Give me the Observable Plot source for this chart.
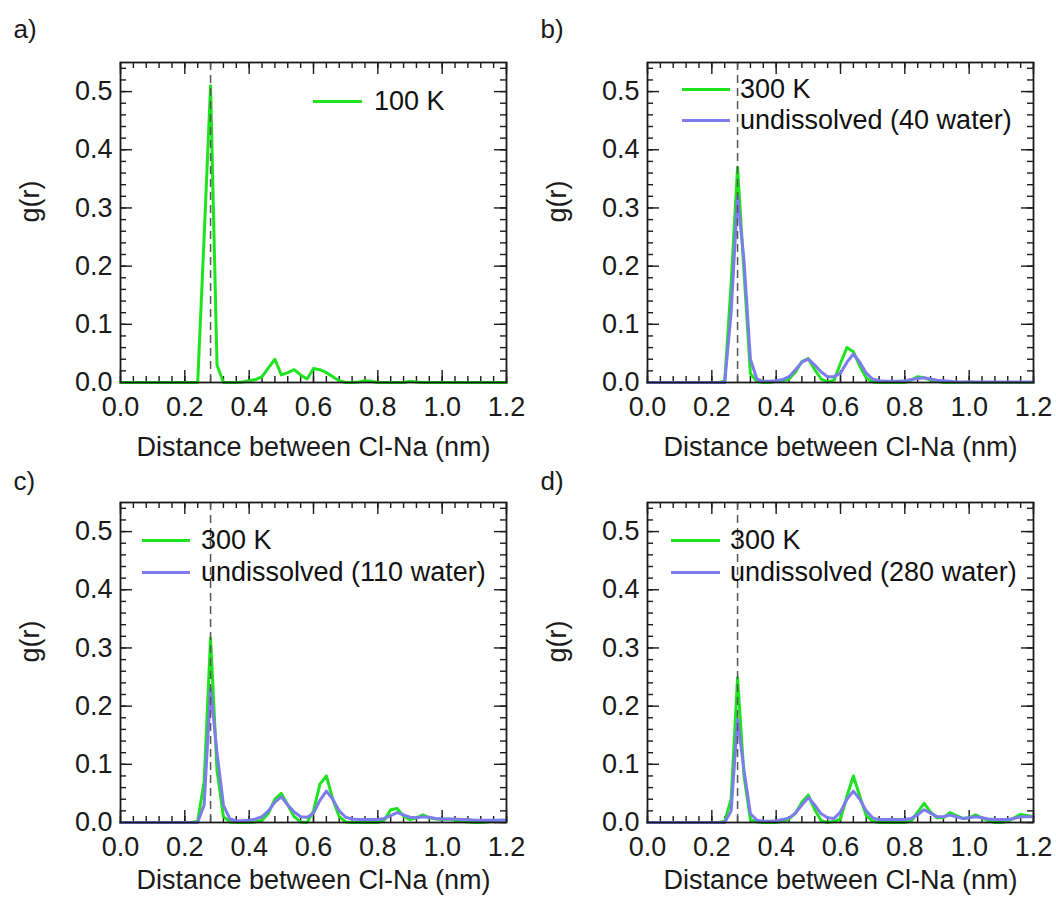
<!DOCTYPE html>
<html>
<head>
<meta charset="utf-8">
<script src="https://cdn.jsdelivr.net/npm/d3@7"></script>
<script src="https://cdn.jsdelivr.net/npm/@observablehq/plot@0.6"></script>
<style>
  body { margin: 0; background: #fff; }
  #page { position: relative; width: 1056px; height: 920px; background: #fff;
          font-family: 'Liberation Sans', Arial, sans-serif; color: #111; overflow: hidden; }
  .panel { position: absolute; }
  .lg-line { position: absolute; height: 3px; }
  .lg-text { position: absolute; font-size: 27px; line-height: 30px; height: 30px; white-space: nowrap; }
</style>
</head>
<body>
<div id="page"></div>
<script>
// ---- data (distance r in nm, g(r) values) ----
const r = [0.00,0.02,0.04,0.06,0.08,0.10,0.12,0.14,0.16,0.18,
           0.20,0.22,0.24,0.26,0.28,0.30,0.32,0.34,0.36,0.38,
           0.40,0.42,0.44,0.46,0.48,0.50,0.52,0.54,0.56,0.58,
           0.60,0.62,0.64,0.66,0.68,0.70,0.72,0.74,0.76,0.78,
           0.80,0.82,0.84,0.86,0.88,0.90,0.92,0.94,0.96,0.98,
           1.00,1.02,1.04,1.06,1.08,1.10,1.12,1.14,1.16,1.18,1.20];

const gA100K = [0,0,0,0,0,0,0,0,0,0,
                0,0,0,0.25,0.51,0.03,0,0,0,0.001,
                0.003,0.005,0.01,0.025,0.04,0.013,0.017,0.022,0.013,0.006,
                0.024,0.022,0.017,0.01,0.003,0,0,0.001,0.003,0.002,
                0,0,0,0,0,0.002,0.001,0,0,0,
                0,0,0,0,0,0,0,0,0,0,0];

const gB300K = [0,0,0,0,0,0,0,0,0,0,
                0,0,0.002,0.17,0.37,0.19,0.015,0.002,0,0,
                0.002,0.003,0.006,0.018,0.036,0.041,0.022,0.006,0.001,0.004,
                0.033,0.06,0.053,0.028,0.008,0.001,0,0,0,0,
                0,0.004,0.01,0.008,0.004,0.002,0,0,0,0,
                0.001,0,0,0,0,0,0,0,0,0,0];
const gB40w  = [0,0,0,0,0,0,0,0,0,0,
                0,0,0,0.12,0.32,0.21,0.04,0.006,0.002,0.002,
                0.003,0.005,0.01,0.022,0.035,0.04,0.03,0.018,0.01,0.01,
                0.016,0.035,0.049,0.035,0.016,0.006,0.003,0.002,0.002,0.002,
                0.003,0.005,0.007,0.008,0.006,0.004,0.003,0.002,0.001,0.001,
                0.001,0.001,0.001,0.001,0.001,0.001,0.001,0.001,0.001,0.001,0.001];

const gC300K = [0,0,0,0,0,0,0,0,0,0,
                0,0,0.002,0.07,0.317,0.09,0.01,0.001,0,0,
                0,0.001,0.004,0.016,0.04,0.05,0.03,0.01,0.001,0,
                0.02,0.066,0.08,0.04,0.01,0.001,0,0,0,0,
                0,0.004,0.022,0.024,0.011,0.005,0.008,0.013,0.008,0.006,
                0.005,0.006,0.004,0.002,0.001,0,0,0.001,0.003,0.004,0.004];
const gC110w = [0,0,0,0,0,0,0,0,0,0,
                0,0,0,0.03,0.23,0.12,0.03,0.006,0.003,0.003,
                0.004,0.006,0.01,0.02,0.035,0.044,0.03,0.018,0.01,0.009,
                0.016,0.038,0.054,0.04,0.02,0.009,0.006,0.005,0.005,0.005,
                0.005,0.007,0.012,0.017,0.013,0.009,0.008,0.01,0.009,0.007,
                0.006,0.006,0.006,0.005,0.005,0.004,0.004,0.004,0.004,0.004,0.004];

const gD300K = [0,0,0,0,0,0,0,0,0,0,
                0,0,0.002,0.04,0.249,0.08,0.005,0.001,0,0,
                0,0.002,0.006,0.016,0.035,0.047,0.022,0.003,0,0.002,
                0.006,0.045,0.08,0.045,0.012,0.002,0,0,0,0,
                0,0.003,0.018,0.033,0.018,0.008,0.008,0.017,0.012,0.007,
                0.008,0.013,0.008,0.003,0,0,0.002,0.008,0.014,0.012,0.01];
const gD280w = [0,0,0,0,0,0,0,0,0,0,
                0,0,0,0.02,0.177,0.09,0.015,0.004,0.002,0.002,
                0.003,0.005,0.008,0.016,0.03,0.043,0.03,0.015,0.008,0.007,
                0.018,0.04,0.054,0.04,0.02,0.008,0.005,0.005,0.005,0.005,
                0.005,0.007,0.013,0.022,0.016,0.01,0.01,0.013,0.01,0.007,
                0.008,0.01,0.008,0.006,0.005,0.005,0.005,0.007,0.01,0.01,0.01];

const peakR = 0.28;                       // dashed reference line
const xTicks = [0, 0.2, 0.4, 0.6, 0.8, 1.0, 1.2];
const yTicks = [0, 0.1, 0.2, 0.3, 0.4, 0.5];
const xTitle = "Distance between Cl-Na (nm)";
const yTitle = "g(r)";
const panelLabels = ["a)", "b)", "c)", "d)"];
const seriesNames = {
  a: ["100 K"],
  b: ["300 K", "undissolved (40 water)"],
  c: ["300 K", "undissolved (110 water)"],
  d: ["300 K", "undissolved (280 water)"]
};

// ---- styling / layout ----
const GREEN = "#1fe31f", BLUE = "#7c7cee";
const W = 528, H = 470, ML = 120, MR = 22, MT = 62, MB = 88;
const FW = W - ML - MR, FH = H - MT - MB;
const xMinor = d3.range(0, 1.2001, 0.04);
const yMinor = d3.range(0, 0.5401, 0.02);
const INK = "#1a1a1a";

const panels = [
  {key: "a", left: 0,   top: 0,   label: panelLabels[0], labelDy: -33, titleDy: 65,
   series: [gA100K], colors: [GREEN],
   legend: {x1: 313, x2: 362, text: 374, ys: [101]}},
  {key: "b", left: 527, top: 0,   label: panelLabels[1], labelDy: -33, titleDy: 65,
   series: [gB300K, gB40w], colors: [GREEN, BLUE],
   legend: {x1: 682, x2: 730, text: 740, ys: [89, 120]}},
  {key: "c", left: 0,   top: 440, label: panelLabels[2], labelDy: -21, titleDy: 58,
   series: [gC300K, gC110w], colors: [GREEN, BLUE],
   legend: {x1: 142, x2: 190, text: 201, ys: [540, 572]}},
  {key: "d", left: 527, top: 440, label: panelLabels[3], labelDy: -21, titleDy: 58,
   series: [gD300K, gD280w], colors: [GREEN, BLUE],
   legend: {x1: 671, x2: 720, text: 730, ys: [540, 572]}}
];

const page = document.getElementById("page");
const fmt = d3.format(".1f");

for (const p of panels) {
  const fig = Plot.plot({
    width: W, height: H,
    marginLeft: ML, marginRight: MR, marginTop: MT, marginBottom: MB,
    x: {domain: [0, 1.2], axis: null},
    y: {domain: [0, 0.55], axis: null},
    style: {fontFamily: "'Liberation Sans', Arial, sans-serif", fontSize: "27px",
            color: INK, background: "transparent", overflow: "visible"},
    marks: [
      // inward ticks on all four sides
      Plot.ruleX(xMinor, {x: d => d, insetTop: FH - 6, stroke: INK, strokeWidth: 1.4}),
      Plot.ruleX(xTicks, {x: d => d, insetTop: FH - 12, stroke: INK, strokeWidth: 1.4}),
      Plot.ruleX(xMinor, {x: d => d, insetBottom: FH - 6, stroke: INK, strokeWidth: 1.4}),
      Plot.ruleX(xTicks, {x: d => d, insetBottom: FH - 12, stroke: INK, strokeWidth: 1.4}),
      Plot.ruleY(yMinor, {y: d => d, insetRight: FW - 6, stroke: INK, strokeWidth: 1.4}),
      Plot.ruleY(yTicks, {y: d => d, insetRight: FW - 12, stroke: INK, strokeWidth: 1.4}),
      Plot.ruleY(yMinor, {y: d => d, insetLeft: FW - 6, stroke: INK, strokeWidth: 1.4}),
      Plot.ruleY(yTicks, {y: d => d, insetLeft: FW - 12, stroke: INK, strokeWidth: 1.4}),
      Plot.axisX({ticks: xTicks, tickSize: 0, tickPadding: 14, tickFormat: fmt, label: null}),
      Plot.axisY({ticks: yTicks, tickSize: 0, tickPadding: 8, tickFormat: fmt, label: null}),
      Plot.text([yTitle], {frameAnchor: "left", dx: -90, rotate: -90, fill: INK}),
      Plot.text([xTitle], {frameAnchor: "bottom", lineAnchor: "middle", dy: p.titleDy, fill: INK}),
      Plot.text([p.label], {frameAnchor: "top-left", lineAnchor: "middle", dx: -107, dy: p.labelDy,
                            textAnchor: "start", fontSize: 26, fill: INK}),
      ...p.series.map((vals, k) =>
        Plot.line(vals, {x: r, y: d => d, stroke: p.colors[k], strokeWidth: 3,
                         strokeLinejoin: "round"})),
      Plot.ruleX([peakR], {x: d => d, stroke: "#555", strokeWidth: 1.5, strokeDasharray: "8,5"}),
      Plot.frame({stroke: INK, strokeWidth: 1.8})
    ]
  });
  const wrap = document.createElement("div");
  wrap.className = "panel";
  wrap.style.left = p.left + "px";
  wrap.style.top = p.top + "px";
  wrap.appendChild(fig);
  page.appendChild(wrap);

  // legend overlay
  seriesNames[p.key].forEach((name, k) => {
    const y = p.legend.ys[k];
    const ln = document.createElement("div");
    ln.className = "lg-line";
    ln.style.left = p.legend.x1 + "px";
    ln.style.width = (p.legend.x2 - p.legend.x1) + "px";
    ln.style.top = (y - 1.5) + "px";
    ln.style.background = p.colors[k];
    page.appendChild(ln);
    const tx = document.createElement("div");
    tx.className = "lg-text";
    tx.style.left = p.legend.text + "px";
    tx.style.top = (y - 15) + "px";
    tx.textContent = name;
    page.appendChild(tx);
  });
}
</script>
</body>
</html>
